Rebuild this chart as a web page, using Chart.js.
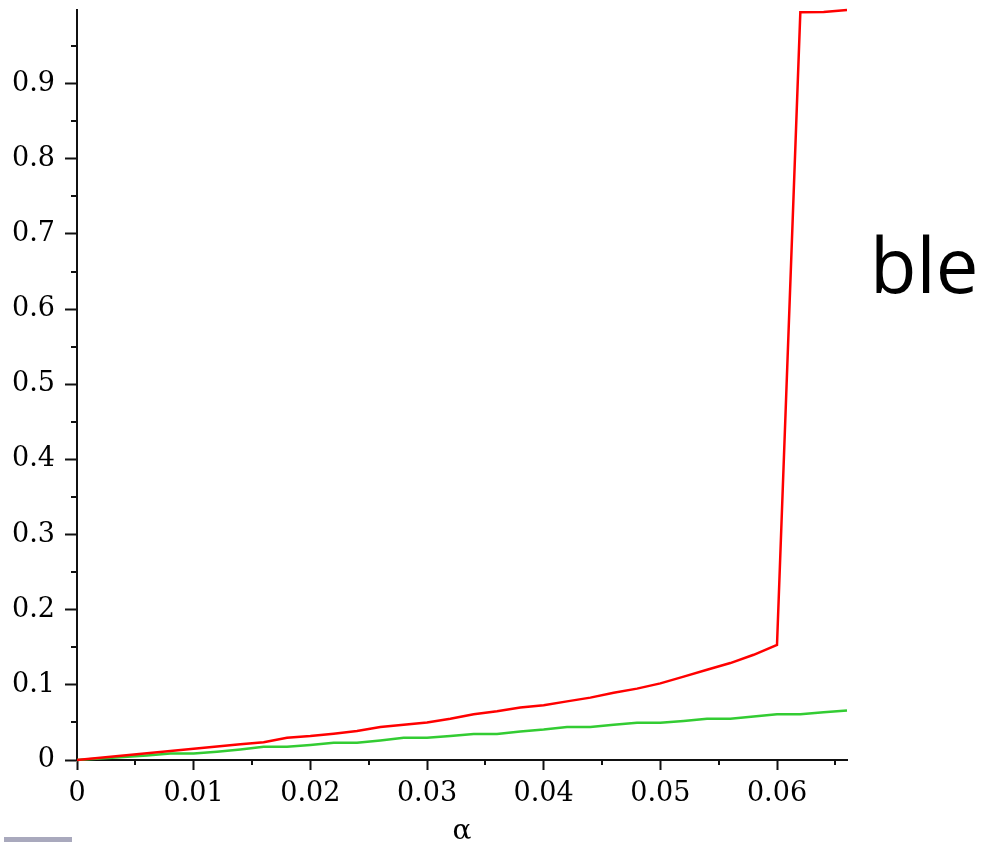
<!DOCTYPE html>
<html>
<head>
<meta charset="utf-8">
<script src="https://cdn.jsdelivr.net/npm/chart.js@4/dist/chart.umd.min.js"></script>
<style>
  html, body { margin: 0; padding: 0; background: #ffffff; }
  #wrap { width: 982px; height: 842px; }
</style>
</head>
<body>
<div id="wrap"><canvas id="c" width="982" height="842"></canvas></div>
<script>
// ---- data ----
const alphaValues = [0, 0.002, 0.004, 0.006, 0.008, 0.010, 0.012, 0.014, 0.016, 0.018,
  0.020, 0.022, 0.024, 0.026, 0.028, 0.030, 0.032, 0.034, 0.036, 0.038,
  0.040, 0.042, 0.044, 0.046, 0.048, 0.050, 0.052, 0.054, 0.056, 0.058,
  0.060, 0.062, 0.064, 0.066];
const redValues = [0, 0.003, 0.006, 0.009, 0.012, 0.015, 0.018, 0.021, 0.0235, 0.0297,
  0.032, 0.035, 0.0386, 0.044, 0.047, 0.050, 0.055, 0.061, 0.065, 0.070,
  0.073, 0.078, 0.083, 0.0895, 0.095, 0.102, 0.111, 0.120, 0.129, 0.140,
  0.153, 0.995, 0.9955, 0.998];
const greenValues = [0, 0.002, 0.004, 0.006, 0.0085, 0.0085, 0.011, 0.014, 0.0175, 0.0175,
  0.020, 0.023, 0.023, 0.026, 0.0295, 0.0295, 0.032, 0.0345, 0.0345, 0.038,
  0.0405, 0.044, 0.044, 0.047, 0.0495, 0.0495, 0.052, 0.055, 0.055, 0.058,
  0.061, 0.061, 0.0635, 0.066];
const xTickValues = [0, 0.01, 0.02, 0.03, 0.04, 0.05, 0.06];
const xTickLabels = ['0', '0.01', '0.02', '0.03', '0.04', '0.05', '0.06'];
const xMinorTicks = [0.005, 0.015, 0.025, 0.035, 0.045, 0.055, 0.065];
const yTickValues = [0, 0.1, 0.2, 0.3, 0.4, 0.5, 0.6, 0.7, 0.8, 0.9];
const yTickLabels = ['0', '0.1', '0.2', '0.3', '0.4', '0.5', '0.6', '0.7', '0.8', '0.9'];
const yMinorTicks = [0.05, 0.15, 0.25, 0.35, 0.45, 0.55, 0.65, 0.75, 0.85, 0.95];
const xAxisTitle = 'α';
const sideText = 'ble';

const toPoints = (ys) => alphaValues.map((x, i) => ({ x: x, y: ys[i] }));

const AXIS_COLOR = '#111111';
const SERIF = '"DejaVu Serif", serif';

const extrasPlugin = {
  id: 'extras',
  afterDraw(chart) {
    const ctx = chart.ctx;
    const xs = chart.scales.x, ys = chart.scales.y;
    ctx.save();
    ctx.strokeStyle = AXIS_COLOR;
    ctx.lineWidth = 2;
    xMinorTicks.forEach(v => {
      const px = Math.round(xs.getPixelForValue(v));
      ctx.beginPath();
      ctx.moveTo(px, ys.bottom);
      ctx.lineTo(px, ys.bottom + 5);
      ctx.stroke();
    });
    yMinorTicks.forEach(v => {
      const py = Math.round(ys.getPixelForValue(v));
      ctx.beginPath();
      ctx.moveTo(xs.left, py);
      ctx.lineTo(xs.left - 6, py);
      ctx.stroke();
    });
    ctx.fillStyle = '#000000';
    ctx.font = '76px "Open Sans", sans-serif';
    ctx.textAlign = 'left';
    ctx.textBaseline = 'alphabetic';
    ctx.fillText(sideText, 870, 293);
    ctx.fillStyle = '#a9a9bd';
    ctx.fillRect(4, 837, 68, 5);
    ctx.restore();
  }
};

new Chart(document.getElementById('c'), {
  type: 'scatter',
  data: {
    datasets: [
      {
        label: 'red',
        data: toPoints(redValues),
        showLine: true,
        borderColor: '#ff0000',
        backgroundColor: '#ff0000',
        borderWidth: 2.5,
        pointRadius: 0,
        tension: 0,
        clip: false
      },
      {
        label: 'green',
        data: toPoints(greenValues),
        showLine: true,
        borderColor: '#33cc33',
        backgroundColor: '#33cc33',
        borderWidth: 2.5,
        pointRadius: 0,
        tension: 0,
        clip: false
      }
    ]
  },
  options: {
    responsive: false,
    animation: false,
    devicePixelRatio: 1,
    layout: { padding: { left: 0, right: 135, top: 10, bottom: 0 } },
    plugins: {
      legend: { display: false },
      tooltip: { enabled: false }
    },
    scales: {
      x: {
        type: 'linear',
        min: 0,
        max: 0.066,
        afterBuildTicks: (scale) => { scale.ticks = xTickValues.map(v => ({ value: v })); },
        afterFit: (scale) => { scale.height = 82; scale.paddingRight = 0; scale.paddingLeft = 0; },
        ticks: {
          color: '#000000',
          font: { family: SERIF, size: 27 },
          padding: 8,
          maxRotation: 0,
          autoSkip: false,
          callback: (value, index) => xTickLabels[index]
        },
        grid: {
          drawOnChartArea: false,
          drawTicks: true,
          tickLength: 10,
          tickWidth: 2,
          tickColor: AXIS_COLOR
        },
        border: { display: true, color: AXIS_COLOR, width: 2 },
        title: {
          display: true,
          text: xAxisTitle,
          color: '#000000',
          font: { family: SERIF, size: 28 },
          padding: { top: 0, bottom: -7 }
        }
      },
      y: {
        type: 'linear',
        min: 0,
        max: 0.998,
        afterBuildTicks: (scale) => { scale.ticks = yTickValues.map(v => ({ value: v })); },
        afterFit: (scale) => { scale.width = 77; scale.paddingTop = 0; scale.paddingBottom = 0; },
        ticks: {
          color: '#000000',
          font: { family: SERIF, size: 27 },
          padding: 10,
          autoSkip: false,
          callback: (value, index) => yTickLabels[index]
        },
        grid: {
          drawOnChartArea: false,
          drawTicks: true,
          tickLength: 12,
          tickWidth: 2,
          tickColor: AXIS_COLOR
        },
        border: { display: true, color: AXIS_COLOR, width: 2 }
      }
    }
  },
  plugins: [extrasPlugin]
});
</script>
</body>
</html>
